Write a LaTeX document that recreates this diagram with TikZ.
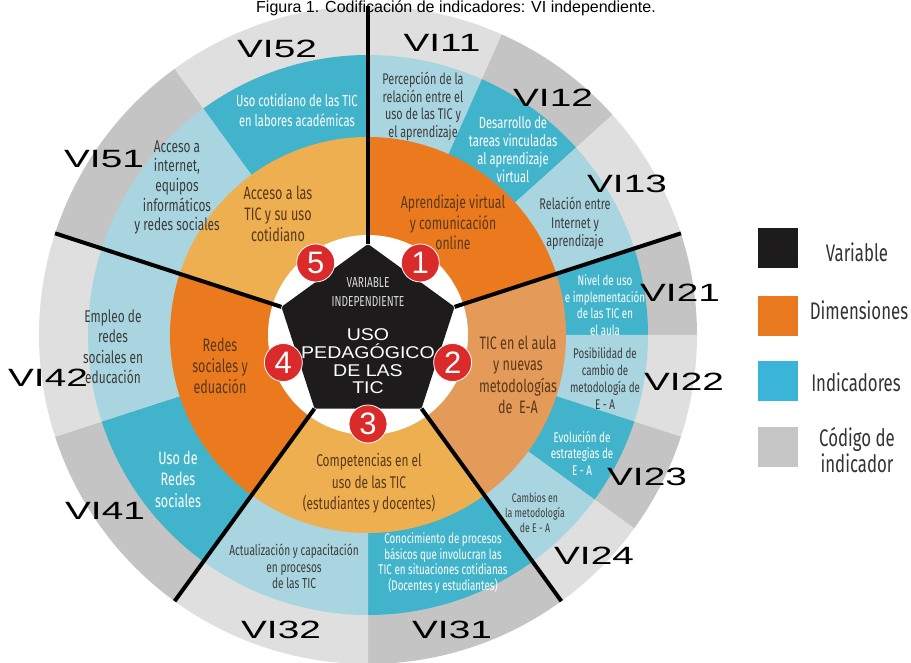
\documentclass[tikz,border=0pt]{standalone}
\usepackage{fontspec}
\setmainfont{Liberation Sans}
\newfontfamily\cf[FakeStretch=0.7]{Fira Sans}
\newfontfamily\codef[FakeStretch=1.55]{Liberation Sans}
\newfontfamily\pentf[FakeStretch=1.15]{Liberation Sans}
\definecolor{gL}{HTML}{DFDFDF}
\definecolor{gD}{HTML}{C4C4C4}
\definecolor{bL}{HTML}{A9D5E0}
\definecolor{bD}{HTML}{41B4CB}
\definecolor{oA}{HTML}{EB7A1F}
\definecolor{oB}{HTML}{E49B5A}
\definecolor{oC}{HTML}{EEAF50}
\definecolor{brownT}{HTML}{5A3818}
\definecolor{darkT}{HTML}{3C3C3C}
\definecolor{pentC}{HTML}{1D1B1B}
\definecolor{redC}{HTML}{DB2A2A}
\definecolor{legB}{HTML}{3BB4D9}
\definecolor{legO}{HTML}{E8791F}
\definecolor{legG}{HTML}{C6C6C6}
\definecolor{legT}{HTML}{333333}
\definecolor{varT}{HTML}{D9D9D9}
\newcommand\pieslice[4]{\fill[#1] (0,0) -- (#2:#4) arc[start angle=#2,end angle=#3,radius=#4] -- cycle;}
\begin{document}
\begin{tikzpicture}[x=1pt,y=1pt,
  dimt/.style={font=\cf\fontsize{18}{21}\selectfont, text=brownT, align=center, inner sep=0pt},
  indl/.style={font=\cf\fontsize{15.5}{17.5}\selectfont, text=darkT, align=center, inner sep=0pt},
  indd/.style={indl, text=white},
  codet/.style={font=\codef\fontsize{25}{25}\selectfont, text=black, inner sep=0pt},
  legt/.style={font=\cf\fontsize{24}{26}\selectfont, text=legT, align=center, inner sep=0pt},
  legbox/.style={minimum size=40pt, inner sep=0pt},
  spoke/.style={line width=4pt, black},
  numc/.style={circle, fill=redC, draw=white, line width=0.8pt, minimum size=38pt, inner sep=0pt, text=white, font=\fontsize{31}{31}\selectfont}
]
\useasboundingbox (0,0) rectangle (911,662);
\fill[white] (0,0) rectangle (911,662);
\begin{scope}[shift={(368,327)}]
% code ring
\pieslice{gL}{66}{90}{329pt}
\pieslice{gD}{42}{66}{329pt}
\pieslice{gL}{18}{42}{329pt}
\pieslice{gD}{0}{18}{329pt}
\pieslice{gL}{-18}{0}{329pt}
\pieslice{gD}{-36}{-18}{329pt}
\pieslice{gL}{-54}{-36}{329pt}
\pieslice{gD}{-90}{-54}{329pt}
\pieslice{gL}{-126}{-90}{329pt}
\pieslice{gD}{-162}{-126}{329pt}
\pieslice{gL}{-198}{-162}{329pt}
\pieslice{gD}{126}{162}{329pt}
\pieslice{gL}{90}{126}{329pt}
% indicator ring
\pieslice{bL}{66}{90}{280pt}
\pieslice{bD}{42}{66}{280pt}
\pieslice{bL}{18}{42}{280pt}
\pieslice{bD}{0}{18}{280pt}
\pieslice{bL}{-18}{0}{280pt}
\pieslice{bD}{-36}{-18}{280pt}
\pieslice{bL}{-54}{-36}{280pt}
\pieslice{bD}{-90}{-54}{280pt}
\pieslice{bL}{-126}{-90}{280pt}
\pieslice{bD}{-162}{-126}{280pt}
\pieslice{bL}{-198}{-162}{280pt}
\pieslice{bL}{126}{162}{280pt}
\pieslice{bD}{90}{126}{280pt}
% dimension ring
\pieslice{oA}{18}{90}{198pt}
\pieslice{oB}{-54}{18}{198pt}
\pieslice{oC}{-126}{-54}{198pt}
\pieslice{oA}{162}{234}{198pt}
\pieslice{oC}{90}{162}{198pt}
% inner white disc
\fill[white] (0,0) circle[radius=100pt];
% pentagon vertices and spoke ends
\coordinate (v1) at (90:91pt);
\coordinate (v2) at (18:91pt);
\coordinate (v3) at (-54:91pt);
\coordinate (v4) at (-126:91pt);
\coordinate (v5) at (162:91pt);
\coordinate (o1) at (90:329pt);
\coordinate (o2) at (18:329pt);
\coordinate (o3) at (-54:329pt);
\coordinate (o4) at (-126:329pt);
\coordinate (o5) at (162:329pt);
\fill[pentC, rounded corners=1.5pt] (v1) -- (v2) -- (v3) -- (v4) -- (v5) -- cycle;
\draw[spoke] (v1) -- (o1);
\draw[spoke] (v2) -- (o2);
\draw[spoke] (v3) -- (o3);
\draw[spoke] (v4) -- (o4);
\draw[spoke] (v5) -- (o5);
% numbered circles
\node[numc] (n1) at (54:89pt) {1};
\node[numc] (n2) at (-18:89pt) {2};
\node[numc] (n3) at (-90:89pt) {3};
\node[numc] (n4) at (198:89pt) {4};
\node[numc] (n5) at (126:89pt) {5};
\end{scope}
% title
\node[font=\fontsize{16}{16}\selectfont, anchor=base, inner sep=0pt] (title) at (456,649) {Figura 1. Codificación de indicadores: VI independiente.};
% pentagon texts
\node[font=\cf\fontsize{14.5}{19}\selectfont, text=varT, align=center, inner sep=0pt] (vartxt) at (368,369.5) {VARIABLE\\INDEPENDIENTE};
\node[font=\pentf\fontsize{17}{17.7}\selectfont, text=white, align=center, inner sep=0pt] (usotxt) at (368,300.5) {USO\\PEDAGÓGICO\\DE LAS\\TIC};
% dimension texts
\node[dimt, font=\cf\fontsize{17.5}{20.5}\selectfont] (d1) at (453,439.5) {Aprendizaje virtual\\y comunicación\\online};
\node[dimt, font=\cf\fontsize{18}{21.3}\selectfont] (d2) at (518,287) {TIC en el aula\\y nuevas\\metodologías\\de\ \ E-A};
\node[dimt, font=\cf\fontsize{17}{21.5}\selectfont] (d3) at (369,178.5) {Competencias en el\\uso de las TIC\\(estudiantes y docentes)};
\node[dimt] (d4) at (220,296) {Redes\\sociales y\\eduación};
\node[dimt] (d5) at (278,448) {Acceso a las\\TIC y su uso\\cotidiano};
% indicator texts
\node[indl, font=\cf\fontsize{15.5}{17.7}\selectfont] (i11) at (423,555.5) {Percepción de la\\relación entre el\\uso de las TIC y\\el aprendizaje};
\node[indd, font=\cf\fontsize{16}{18}\selectfont] (i12) at (513,512) {Desarrollo de\\tareas vinculadas\\al aprendizaje\\virtual};
\node[indl, font=\cf\fontsize{15.5}{18.5}\selectfont] (i13) at (575,438.5) {Relación entre\\Internet y\\aprendizaje};
\node[indd, font=\cf\fontsize{14}{16.7}\selectfont] (i21) at (605,357) {Nivel de uso\\e implementación\\de las TIC en\\el aula};
\node[indl, font=\cf\fontsize{14}{17}\selectfont] (i22) at (605,283.5) {Posibilidad de\\cambio de\\metodología de\\E - A};
\node[indd, font=\cf\fontsize{14}{16.5}\selectfont] (i23) at (582,209) {Evolución de\\estrategias de\\E - A};
\node[indl, font=\cf\fontsize{12.5}{15}\selectfont] (i24) at (535,149) {Cambios en\\la metodología\\de E - A};
\node[indd, font=\cf\fontsize{14}{15.5}\selectfont] (i31) at (443,99) {Conocimiento de procesos\\básicos que involucran las\\TIC en situaciones cotidianas\\(Docentes y estudiantes)};
\node[indl, font=\cf\fontsize{14.5}{16.5}\selectfont] (i32) at (294,95.5) {Actualización y capacitación\\en procesos\\de las TIC};
\node[indd, font=\cf\fontsize{18}{21.5}\selectfont] (i41) at (178,183) {Uso de\\Redes\\sociales};
\node[indl, font=\cf\fontsize{17}{20.5}\selectfont] (i42) at (113,315.5) {Empleo de\\redes\\sociales en\\educación};
\node[indl, font=\cf\fontsize{17}{19.7}\selectfont] (i51) at (177,474.5) {Acceso a\\internet,\\equipos\\informáticos\\y redes sociales};
\node[indd, font=\cf\fontsize{16}{20}\selectfont] (i52) at (297,552) {Uso cotidiano de las TIC\\en labores académicas};
% codes
\node[codet] (c11) at (442,619) {VI11};
\node[codet] (c12) at (553,564) {VI12};
\node[codet] (c13) at (627,478) {VI13};
\node[codet] (c21) at (680,369) {VI21};
\node[codet] (c22) at (684,280) {VI22};
\node[codet] (c23) at (647,185) {VI23};
\node[codet] (c24) at (594,106) {VI24};
\node[codet] (c31) at (452,32) {VI31};
\node[codet] (c32) at (281,32) {VI32};
\node[codet] (c41) at (105,151) {VI41};
\node[codet] (c42) at (48,284) {VI42};
\node[codet] (c51) at (104,503) {VI51};
\node[codet] (c52) at (277,613) {VI52};
% legend
\node[legbox, fill=pentC] (lb1) at (778,413.5) {};
\node[legbox, fill=legO] (lb2) at (778,345.5) {};
\node[legbox, fill=legB] (lb3) at (778,281) {};
\node[legbox, fill=legG] (lb4) at (778,214.5) {};
\node[legt] (lt1) at (857,410) {Variable};
\node[legt] (lt2) at (859,352) {Dimensiones};
\node[legt] (lt3) at (856,280) {Indicadores};
\node[legt] (lt4) at (857,212) {Código de\\indicador};
\end{tikzpicture}
\end{document}
